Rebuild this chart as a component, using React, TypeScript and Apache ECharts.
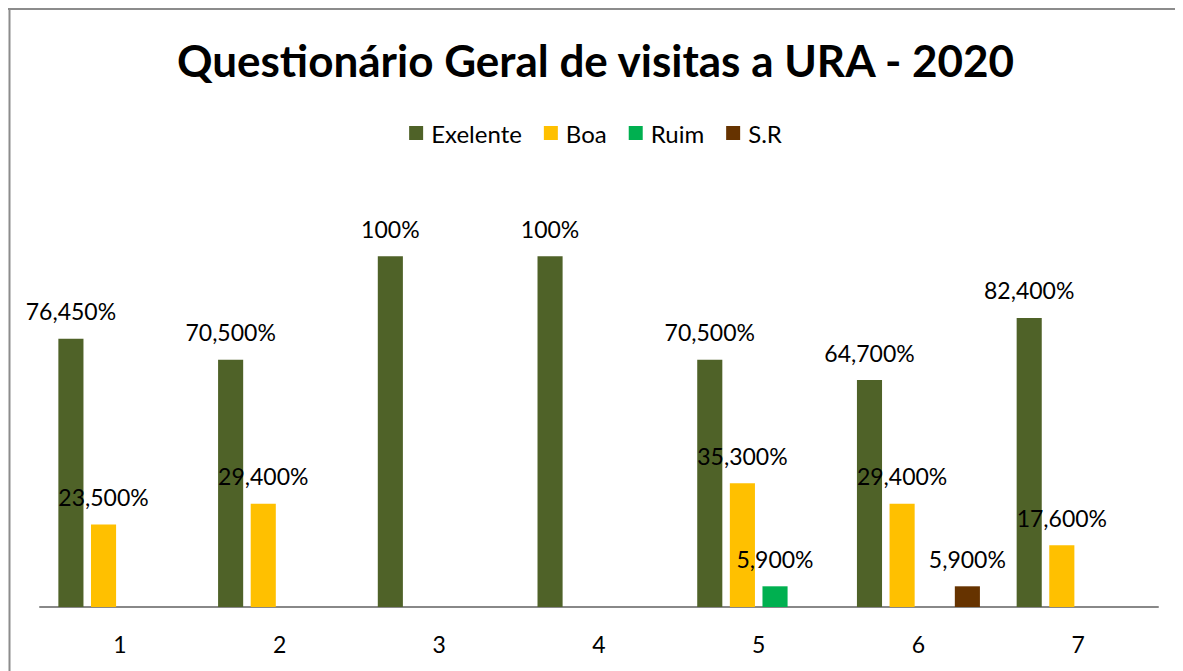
import React, { useEffect, useRef } from "react";
import * as echarts from "echarts";

const categories = ["1", "2", "3", "4", "5", "6", "7"];
const seriesNames = ["Exelente", "Boa", "Ruim", "S.R"];
const exelente = [76.45, 70.5, 100, 100, 70.5, 64.7, 82.4];
const boa = [23.5, 29.4, null, null, 35.3, 29.4, 17.6];
const ruim = [null, null, null, null, 5.9, null, null];
const sr = [null, null, null, null, null, 5.9, null];
const colors = ["#4F6228", "#FFC000", "#00B050", "#663300"];
const titleText = "Questionário Geral de visitas a URA - 2020";

const FONT = "Lato, 'Noto Sans', sans-serif";

function fmt(v: number): string {
  if (Number.isInteger(v)) return v + "%";
  return v.toFixed(3).replace(".", ",") + "%";
}

export default function App() {
  const ref = useRef<HTMLDivElement>(null);
  useEffect(() => {
    if (!ref.current) return;
    const chart = echarts.init(ref.current, null, { renderer: "svg" });
    const data = [exelente, boa, ruim, sr];
    chart.setOption({
      animation: false,
      backgroundColor: "#ffffff",
      title: {
        text: titleText,
        left: "center",
        top: 25,
        textStyle: { fontFamily: FONT, fontWeight: "bold", fontSize: 44, color: "#000" },
      },
      legend: {
        top: 108,
        left: "center",
        icon: "rect",
        itemWidth: 14,
        itemHeight: 14,
        itemGap: 22,
        textStyle: { fontFamily: FONT, fontSize: 24, color: "#000", padding: [0, 0, 0, 3] },
        data: seriesNames,
      },
      graphic: [
        { type: "line", shape: { x1: 1.5, y1: 0, x2: 1.5, y2: 663 }, style: { stroke: "#8c8c8c", lineWidth: 2 } },
        { type: "line", shape: { x1: 0, y1: 1, x2: 1175, y2: 1 }, style: { stroke: "#8c8c8c", lineWidth: 2 } },
      ],
      grid: { left: 32, right: 25, top: 178, bottom: 64, containLabel: false },
      xAxis: {
        type: "category",
        data: categories,
        axisLine: { lineStyle: { color: "#888", width: 2 } },
        axisTick: { show: false },
        axisLabel: { fontFamily: FONT, fontSize: 23, color: "#000", margin: 25 },
      },
      yAxis: {
        type: "value",
        min: 0,
        max: 120,
        show: false,
        splitLine: { show: false },
      },
      series: seriesNames.map((name, i) => ({
        name,
        type: "bar",
        data: data[i],
        itemStyle: { color: colors[i] },
        barGap: "30%",
        barCategoryGap: "23%",
        label: {
          show: true,
          position: "top",
          distance: 16,
          fontFamily: FONT,
          fontSize: 23,
          color: "#000",
          formatter: (p: any) => fmt(p.value),
        },
      })),
    });
    return () => chart.dispose();
  }, []);
  return <div ref={ref} style={{ width: 1175, height: 663 }} />;
}
